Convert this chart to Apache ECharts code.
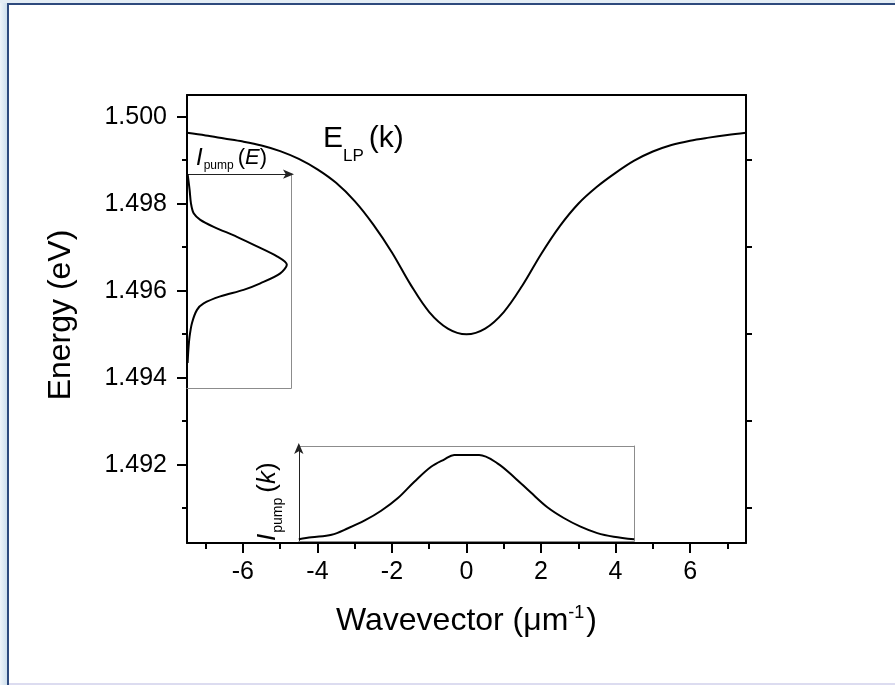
<!DOCTYPE html>
<html>
<head>
<meta charset="utf-8">
<title>Lower polariton dispersion and pump profiles</title>
<script src="https://cdn.jsdelivr.net/npm/echarts@6/dist/echarts.min.js"></script>
<style>
  html, body { margin: 0; padding: 0; background: #fff; }
  #page { position: absolute; left: 0; top: 0; width: 895px; height: 685px; overflow: hidden; background: #fff; }
  #strip { position: absolute; left: 0; top: 0; width: 7px; height: 685px; background: linear-gradient(to right, #f0f5fa, #cddfed); }
  #topband { position: absolute; left: 0; top: 0; width: 895px; height: 3px; background: #e4edf5; }
  #topline { position: absolute; left: 7px; top: 3px; width: 888px; height: 2px; background: #2e4a7d; }
  #leftline { position: absolute; left: 7px; top: 3px; width: 2px; height: 682px; background: #2e4a7d; }
  #bottomline { position: absolute; left: 9px; top: 683px; width: 886px; height: 2px; background: #dcdcf0; }
  #chart { position: absolute; left: 0; top: 0; width: 895px; height: 685px; }
</style>
</head>
<body>
<div id="page">
  <div id="strip"></div>
  <div id="topband"></div>
  <div id="topline"></div>
  <div id="leftline"></div>
  <div id="bottomline"></div>
  <div id="chart"></div>
</div>
<script>
// Lower-polariton branch E_LP(k): wavevector (µm^-1) and energy (eV)
const kLP = [-7.5, -7, -6.5, -6, -5.5, -5, -4.5, -4, -3.5, -3, -2.5, -2, -1.5, -1, -0.5, 0,
             0.5, 1, 1.5, 2, 2.5, 3, 3.5, 4, 4.5, 5, 5.5, 6, 6.5, 7, 7.5];
const eLP = [1.49963, 1.49957, 1.49950, 1.49943, 1.49934, 1.49921, 1.49903, 1.49879, 1.49848,
             1.49806, 1.49752, 1.49688, 1.49614, 1.49551, 1.49513, 1.49500, 1.49513, 1.49551,
             1.49612, 1.49684, 1.49748, 1.49800, 1.49839, 1.49871, 1.49899, 1.49920, 1.49935,
             1.49945, 1.49952, 1.49958, 1.49963];

// Pump spectrum I_pump(E): energy (eV) and normalised intensity
const ePumpE = [1.49868, 1.49832, 1.49801, 1.49778, 1.49763, 1.49747, 1.49724, 1.49702, 1.49679,
                1.49660, 1.49640, 1.49617, 1.49602, 1.49587, 1.49571, 1.49556, 1.49526, 1.49495,
                1.49464, 1.49434];
const iPumpE = [0.006, 0.025, 0.038, 0.064, 0.128, 0.256, 0.480, 0.673, 0.865, 0.960, 0.897,
                0.705, 0.544, 0.320, 0.160, 0.096, 0.048, 0.025, 0.013, 0.006];

// Pump profile I_pump(k): wavevector (µm^-1) and normalised intensity
const kPumpK = [-4.5, -4.16, -3.62, -3.18, -2.73, -2.29, -1.84, -1.40, -0.95, -0.59, -0.33,
                0.34, 0.83, 1.28, 1.72, 2.17, 2.61, 3.06, 3.51, 3.95, 4.5];
const iPumpK = [0.018, 0.039, 0.066, 0.134, 0.216, 0.318, 0.452, 0.624, 0.782, 0.860, 0.905,
                0.905, 0.818, 0.672, 0.512, 0.355, 0.242, 0.151, 0.083, 0.045, 0.018];

// Tick positions
const xMajor = [-6, -4, -2, 0, 2, 4, 6];
const xMinor = [-7, -5, -3, -1, 1, 3, 5, 7];
const yMajor = [1.492, 1.494, 1.496, 1.498, 1.500];
const yMinor = [1.491, 1.493, 1.495, 1.497, 1.499];

// Axis ranges
const K_RANGE = [-7.5, 7.5];
const E_RANGE = [1.4902, 1.5005];
const E_WINDOW = [1.49376, 1.49868];   // energy span of the I_pump(E) box
const K_WINDOW = [-4.5, 4.5];          // wavevector span of the I_pump(k) box

const FONT = '"Liberation Sans", Arial, Helvetica, sans-serif';
const BLACK = '#000';
const GREY = '#8c8c8c';

// Main plot box (pixels)
const MAIN = { left: 187, top: 95, width: 559, height: 448 };
const kToPx = k => MAIN.left + (k - K_RANGE[0]) / (K_RANGE[1] - K_RANGE[0]) * MAIN.width;
const eToPx = e => MAIN.top + (E_RANGE[1] - e) / (E_RANGE[1] - E_RANGE[0]) * MAIN.height;

const chart = echarts.init(document.getElementById('chart'), null, { renderer: 'canvas' });

// text runs (sub/superscripts) laid out with measured widths
const mctx = document.createElement('canvas').getContext('2d');
function fontOf(p) { return (p.italic ? 'italic ' : '') + p.size + 'px ' + FONT; }
function widthOf(p) { mctx.font = fontOf(p); return mctx.measureText(p.text).width; }
function textRuns(x, y, parts, opts) {
  opts = opts || {};
  let total = 0;
  parts.forEach(p => { total += (p.dx || 0) + widthOf(p); });
  let cx = opts.center ? -total / 2 : 0;
  const children = parts.map(p => {
    cx += p.dx || 0;
    const el = {
      type: 'text', x: cx, y: p.dy || 0, silent: true,
      style: { text: p.text, font: fontOf(p), fill: BLACK,
               textAlign: 'left', align: 'left',
               textVerticalAlign: 'middle', verticalAlign: 'middle' }
    };
    cx += widthOf(p);
    return el;
  });
  return { type: 'group', x: x, y: y, rotation: opts.rotation || 0, children: children };
}

function plainAxis(extra) {
  return Object.assign({
    type: 'value',
    splitLine: { show: false },
    axisTick: { show: false },
    axisLabel: { show: false },
    axisLine: { show: false, onZero: false }
  }, extra);
}

const boxE = {
  left: MAIN.left, top: eToPx(E_WINDOW[1]),
  width: 104, height: eToPx(E_WINDOW[0]) - eToPx(E_WINDOW[1])
};
const boxK = {
  left: kToPx(K_WINDOW[0]), top: 446,
  width: kToPx(K_WINDOW[1]) - kToPx(K_WINDOW[0]), height: 95
};

const option = {
  animation: false,
  backgroundColor: 'transparent',
  grid: [
    Object.assign({ containLabel: false }, MAIN),
    Object.assign({ containLabel: false }, boxE),
    Object.assign({ containLabel: false }, boxK)
  ],
  xAxis: [
    // 0: main bottom axis, labels and major ticks
    plainAxis({
      gridIndex: 0, min: K_RANGE[0], max: K_RANGE[1], position: 'bottom',
      axisLine: { show: true, onZero: false, lineStyle: { color: BLACK, width: 2 } },
      axisTick: { show: true, inside: false, length: 10, customValues: xMajor,
                  lineStyle: { color: BLACK, width: 2 } },
      axisLabel: { show: true, customValues: xMajor, margin: 17, color: BLACK,
                   fontSize: 25, fontFamily: FONT }
    }),
    // 1: main bottom minor ticks
    plainAxis({
      gridIndex: 0, min: K_RANGE[0], max: K_RANGE[1], position: 'bottom',
      axisTick: { show: true, inside: false, length: 6, customValues: xMinor,
                  lineStyle: { color: BLACK, width: 2 } }
    }),
    // 2: main top frame
    plainAxis({
      gridIndex: 0, min: K_RANGE[0], max: K_RANGE[1], position: 'top',
      axisLine: { show: true, onZero: false, lineStyle: { color: BLACK, width: 2 } }
    }),
    // 3: I_pump(E) box bottom edge (intensity scale)
    plainAxis({
      gridIndex: 1, min: 0, max: 1, position: 'bottom',
      axisLine: { show: true, onZero: false, lineStyle: { color: GREY, width: 1 } }
    }),
    // 4: I_pump(E) intensity arrow
    plainAxis({
      gridIndex: 1, min: 0, max: 1, position: 'top',
      axisLine: { show: true, onZero: false, symbol: ['none', 'arrow'], symbolSize: [7, 11],
                  symbolOffset: [0, 3], lineStyle: { color: '#222', width: 1 } }
    }),
    // 5: I_pump(k) box bottom edge
    plainAxis({
      gridIndex: 2, min: K_WINDOW[0], max: K_WINDOW[1], position: 'bottom',
      axisLine: { show: true, onZero: false, lineStyle: { color: GREY, width: 1 } }
    }),
    // 6: I_pump(k) box top edge
    plainAxis({
      gridIndex: 2, min: K_WINDOW[0], max: K_WINDOW[1], position: 'top',
      axisLine: { show: true, onZero: false, lineStyle: { color: GREY, width: 1 } }
    })
  ],
  yAxis: [
    // 0: main left axis, labels and major ticks
    plainAxis({
      gridIndex: 0, min: E_RANGE[0], max: E_RANGE[1], position: 'left',
      axisLine: { show: true, onZero: false, lineStyle: { color: BLACK, width: 2 } },
      axisTick: { show: true, inside: false, length: 10, customValues: yMajor,
                  lineStyle: { color: BLACK, width: 2 } },
      axisLabel: { show: true, customValues: yMajor, margin: 20, color: BLACK,
                   fontSize: 25, fontFamily: FONT, formatter: v => Number(v).toFixed(3) }
    }),
    // 1: main left minor ticks
    plainAxis({
      gridIndex: 0, min: E_RANGE[0], max: E_RANGE[1], position: 'left',
      axisTick: { show: true, inside: false, length: 5, customValues: yMinor,
                  lineStyle: { color: BLACK, width: 2 } }
    }),
    // 2: main right frame with odd ticks
    plainAxis({
      gridIndex: 0, min: E_RANGE[0], max: E_RANGE[1], position: 'right',
      axisLine: { show: true, onZero: false, lineStyle: { color: BLACK, width: 2 } },
      axisTick: { show: true, inside: false, length: 6, customValues: yMinor,
                  lineStyle: { color: BLACK, width: 2 } }
    }),
    // 3: I_pump(E) box right edge (energy scale)
    plainAxis({
      gridIndex: 1, min: E_WINDOW[0], max: E_WINDOW[1], position: 'right',
      axisLine: { show: true, onZero: false, lineStyle: { color: GREY, width: 1 } }
    }),
    // 4: I_pump(k) intensity arrow
    plainAxis({
      gridIndex: 2, min: 0, max: 1, position: 'left',
      axisLine: { show: true, onZero: false, symbol: ['none', 'arrow'], symbolSize: [7, 11],
                  symbolOffset: [0, 3], lineStyle: { color: '#222', width: 1 } }
    }),
    // 5: I_pump(k) box right edge
    plainAxis({
      gridIndex: 2, min: 0, max: 1, position: 'right',
      axisLine: { show: true, onZero: false, lineStyle: { color: GREY, width: 1 } }
    })
  ],
  series: [
    {
      name: 'E_LP(k)', type: 'line', xAxisIndex: 0, yAxisIndex: 0,
      data: kLP.map((k, i) => [k, eLP[i]]),
      showSymbol: false, symbol: 'none', smooth: 0.35,
      lineStyle: { color: BLACK, width: 2 }, z: 5
    },
    {
      name: 'I_pump(E)', type: 'line', xAxisIndex: 3, yAxisIndex: 3,
      data: iPumpE.map((v, i) => [v, ePumpE[i]]),
      showSymbol: false, symbol: 'none', smooth: 0.3,
      lineStyle: { color: BLACK, width: 2 }, z: 4
    },
    {
      name: 'I_pump(k)', type: 'line', xAxisIndex: 5, yAxisIndex: 4,
      data: kPumpK.map((k, i) => [k, iPumpK[i]]),
      showSymbol: false, symbol: 'none', smooth: 0.35,
      lineStyle: { color: BLACK, width: 2 }, z: 4
    }
  ],
  graphic: [
    // axis titles
    textRuns(61, 315, [{ text: 'Energy (eV)', size: 32 }], { center: true, rotation: Math.PI / 2 }),
    textRuns(466.5, 621, [
      { text: 'Wavevector (\u03bcm', size: 32 },
      { text: '-1', size: 18, dy: -8 },
      { text: ')', size: 32, dx: 2 }
    ], { center: true }),
    // curve labels
    textRuns(323, 139, [
      { text: 'E', size: 30 },
      { text: 'LP', size: 17, dy: 17 },
      { text: '(k)', size: 30, dx: 5 }
    ]),
    textRuns(196, 158, [
      { text: 'I', size: 24, italic: true },
      { text: 'pump', size: 12, dy: 8, dx: 1 },
      { text: '(', size: 22, dx: 4 },
      { text: 'E', size: 22, italic: true },
      { text: ')', size: 22 }
    ]),
    textRuns(268, 541, [
      { text: 'I', size: 26, italic: true },
      { text: 'pump', size: 14, dy: 10, dx: 1 },
      { text: '(', size: 26, dx: 5 },
      { text: 'k', size: 26, italic: true },
      { text: ')', size: 26 }
    ], { rotation: Math.PI / 2 })
  ]
};

chart.setOption(option);
</script>
</body>
</html>
